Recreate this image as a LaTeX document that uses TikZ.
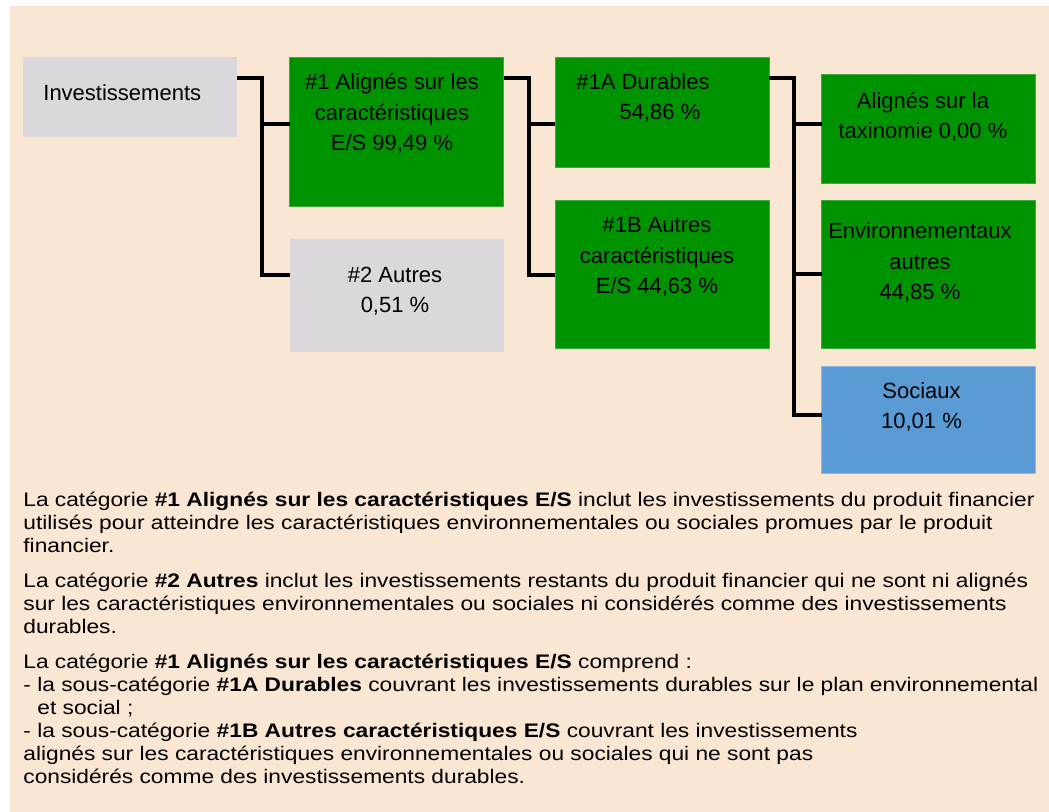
\documentclass[tikz,border=0pt]{standalone}
\usepackage{fontspec}
\setmainfont{Liberation Sans}
\newfontfamily\notefont[FakeStretch=1.16]{Liberation Sans}
\usetikzlibrary{positioning}

\definecolor{bgbeige}{HTML}{F9E6D3}
\definecolor{boxgrey}{HTML}{DAD8DC}
\definecolor{boxgreen}{HTML}{009300}
\definecolor{edgegreen}{HTML}{3DAA3D}
\definecolor{boxblue}{HTML}{5B9BD5}
\definecolor{edgeblue}{HTML}{8DB8E3}

\begin{document}
\begin{tikzpicture}[x=0.5pt,y=-0.5pt,
                    box/.style={rectangle,inner sep=0pt,outer sep=0pt,minimum width=107pt},
                    grey node/.style={box,fill=boxgrey},
                    green node/.style={box,fill=boxgreen,draw=edgegreen,line width=0.4pt},
                    blue node/.style={box,fill=boxblue,draw=edgeblue,line width=0.4pt},
                    lbl/.style={inner sep=0pt,align=center,font=\fontsize{11}{15.2}\selectfont},
                    note/.style={inner sep=0pt,align=left,anchor=base west,font=\notefont\fontsize{9.8}{11.45}\selectfont},
                    link/.style={line width=2.4pt,black}]

  \useasboundingbox (0,0) rectangle (1049,812);
  \fill[bgbeige] (10,6) rectangle (1049,812);

  % boxes
  \node[grey node, minimum height=40pt] (inv) at (130,97) {};
  \node[green node, minimum height=74.5pt] (n1) at (396.5,131.5) {};
  \node[grey node, minimum height=56.5pt] (n2) at (396.5,295.5) {};
  \node[green node, minimum height=55pt] (n1a) at (662,112) {};
  \node[green node, minimum height=74pt] (n1b) at (662,274) {};
  \node[green node, minimum height=54.5pt] (tax) at (928.5,128.5) {};
  \node[green node, minimum height=74pt] (env) at (928.5,274) {};
  \node[blue node, minimum height=53.5pt] (soc) at (928.5,419.5) {};

  % box texts
  \node[lbl, anchor=west] (invt) at (43,93) {Investissements};
  \node[lbl] (n1t) at (392,113.5) {\#1 Alignés sur les\\caractéristiques\\E/S 99,49 \%};
  \node[lbl] (n2t) at (395,291) {\#2 Autres\\0,51 \%};
  \node[lbl] (n1at) at (660,98) {\#1A Durables\hspace*{17pt}\\54,86 \%};
  \node[lbl] (n1bt) at (657,257) {\#1B Autres\\caractéristiques\\E/S 44,63 \%};
  \node[lbl] (taxt) at (923,117) {Alignés sur la\\taxinomie 0,00 \%};
  \node[lbl] (envt) at (920,262.5) {Environnementaux\\autres\\44,85 \%};
  \node[lbl] (soct) at (921.5,407) {Sociaux\\10,01 \%};

  % connectors
  \coordinate (j1) at (262,78);
  \coordinate (j1a) at (262,124);
  \coordinate (j1b) at (262,275);
  \draw[link] (inv.east |- j1) -- (j1) -- (j1b) -- (n2.west |- j1b);
  \draw[link] (j1a) -- (n1.west |- j1a);

  \coordinate (j2) at (529,78);
  \coordinate (j2a) at (529,124);
  \coordinate (j2b) at (529,275);
  \draw[link] (n1.east |- j2) -- (j2) -- (j2b) -- (n1b.west |- j2b);
  \draw[link] (j2a) -- (n1a.west |- j2a);

  \coordinate (j3) at (794,78);
  \coordinate (j3a) at (794,124);
  \coordinate (j3b) at (794,274);
  \coordinate (j3c) at (794,415);
  \draw[link] (n1a.east |- j3) -- (j3) -- (j3c) -- (soc.west |- j3c);
  \draw[link] (j3a) -- (tax.west |- j3a);
  \draw[link] (j3b) -- (env.west |- j3b);

  % notes (anchored on the baseline of their last line)
  \node[note] (p1) at (23,552) {La catégorie \textbf{\#1 Alignés sur les caractéristiques E/S} inclut les investissements du produit financier\\
    utilisés pour atteindre les caractéristiques environnementales ou sociales promues par le produit\\
    financier.};
  \node[note] (p2) at (23,633) {La catégorie \textbf{\#2 Autres} inclut les investissements restants du produit financier qui ne sont ni alignés\\
    sur les caractéristiques environnementales ou sociales ni considérés comme des investissements\\
    durables.};
  \node[note] (p3) at (23,783) {La catégorie \textbf{\#1 Alignés sur les caractéristiques E/S} comprend :\\
    - la sous-catégorie \textbf{\#1A Durables} couvrant les investissements durables sur le plan environnemental\\
    \hspace*{7pt}et social ;\\
    - la sous-catégorie \textbf{\#1B Autres caractéristiques E/S} couvrant les investissements\\
    alignés sur les caractéristiques environnementales ou sociales qui ne sont pas\\
    considérés comme des investissements durables.};
\end{tikzpicture}
\end{document}
